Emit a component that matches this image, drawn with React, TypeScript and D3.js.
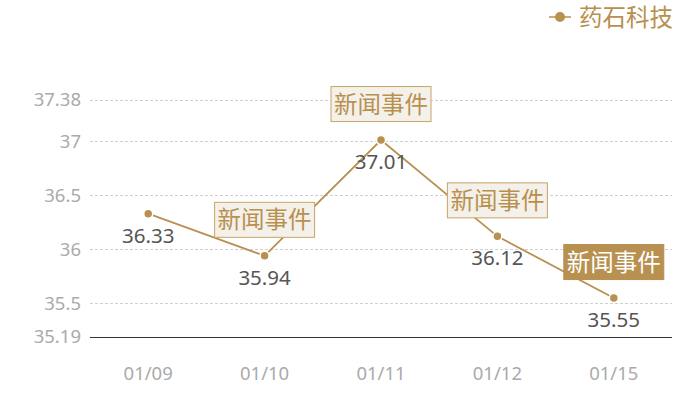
import * as d3 from 'd3'
import React from 'react'

const categories = ['01/09', '01/10', '01/11', '01/12', '01/15']
const prices = [36.33, 35.94, 37.01, 36.12, 35.55]
const yTicks = [35.19, 35.5, 36, 36.5, 37, 37.38]
const eventIndexes = [1, 2, 3, 4]
const highlightIndex = 4
const seriesName = '药石科技'
const eventText = '新闻事件'

const width = 700
const height = 400
const margin = { top: 100, right: 28, bottom: 63, left: 90 }
const gold = '#b8904f'
const font = '"Noto Sans", "Noto Sans CJK SC", sans-serif'

const App = () => {
  const x = d3.scaleBand()
    .domain(categories)
    .range([margin.left, width - margin.right])
  const y = d3.scaleLinear()
    .domain([35.19, 37.38])
    .range([height - margin.bottom, margin.top])

  const cx = (c: string) => (x(c) as number) + x.bandwidth() / 2

  const line = d3.line<number>()
    .x((d, i) => cx(categories[i]))
    .y((d) => y(d))

  const baseY = Math.round(height - margin.bottom) + 0.5

  return (
    <svg width={width} height={height}
      style={{ position: 'absolute', left: 0, top: 0, fontFamily: font }}>
      {/* legend */}
      <g>
        <line x1={549} x2={571} y1={17} y2={17} stroke={gold} strokeWidth={1.5} />
        <circle cx={560} cy={17} r={5} fill={gold} />
        <text x={579} y={26} fontSize={23.5} fill={gold}>{seriesName}</text>
      </g>

      {/* grid + y ticks */}
      {yTicks.map((t) => (
        <g key={t}>
          {t !== 35.19 && (
            <line x1={margin.left} x2={width - margin.right}
              y1={Math.round(y(t)) + 0.5} y2={Math.round(y(t)) + 0.5}
              stroke='#d0d0d0' strokeDasharray='3,2' strokeWidth={1} />
          )}
          <text x={81} y={y(t)} dy='0.35em' textAnchor='end' fontSize={18.5} fill='#aaa'>{t}</text>
        </g>
      ))}
      <line x1={margin.left} x2={width - margin.right} y1={baseY} y2={baseY}
        stroke='#333' strokeWidth={1} />

      {/* x labels */}
      {categories.map((c) => (
        <text key={c} x={cx(c)} y={380} textAnchor='middle' fontSize={18.5} fill='#aaa'>{c}</text>
      ))}

      {/* series */}
      <path d={line(prices) as string} fill='none' stroke={gold} strokeWidth={1.8} />
      {prices.map((p, i) => (
        <g key={i}>
          <circle cx={cx(categories[i])} cy={y(p)} r={4.5} fill={gold} stroke='#fff' strokeWidth={1.5} />
          <text x={cx(categories[i])} y={y(p) + 29} textAnchor='middle' fontSize={20.5} fill='#555'>{p}</text>
        </g>
      ))}

      {/* event annotations */}
      {eventIndexes.map((i) => {
        const hi = i === highlightIndex
        const bx = cx(categories[i])
        const by = y(prices[i]) - 36
        return (
          <g key={'e' + i}>
            <rect x={bx - 50} y={by - 17.5} width={100} height={35}
              fill={hi ? gold : '#f4f0ea'} stroke={hi ? gold : '#c9a468'} strokeWidth={1} />
            <text x={bx} y={by} dy='0.36em' textAnchor='middle' fontSize={23.5}
              fill={hi ? '#fff' : gold}>{eventText}</text>
          </g>
        )
      })}
    </svg>
  )
}

export default App
